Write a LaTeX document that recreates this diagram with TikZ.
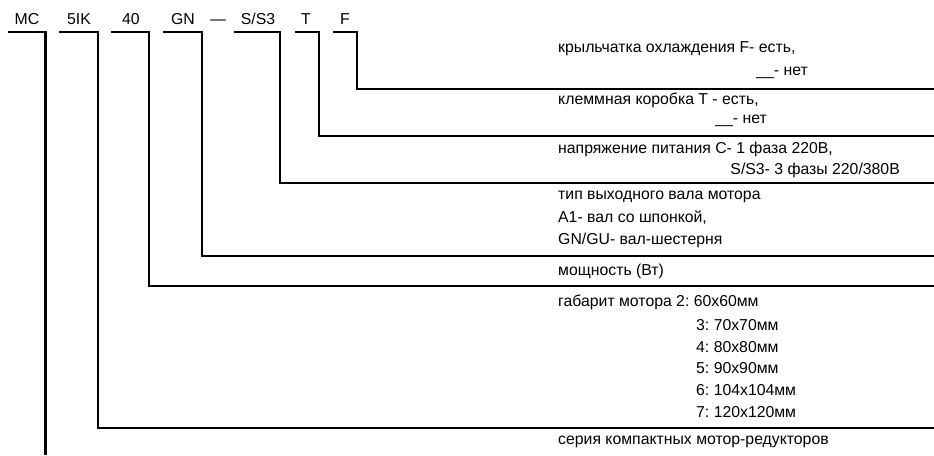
\documentclass[tikz,border=0pt]{standalone}
\usepackage{fontspec}
\setmainfont{Liberation Sans}
\frenchspacing
\begin{document}
\begin{tikzpicture}[x=1pt,y=-1pt,
  lbl/.style={inner sep=0pt,anchor=base,font=\fontsize{15.8}{18}\selectfont},
  txt/.style={inner sep=0pt,anchor=west,font=\fontsize{15.8}{18}\selectfont},
  txr/.style={inner sep=0pt,anchor=east,font=\fontsize{15.8}{18}\selectfont},
  brk/.style={line width=2.4pt,line join=miter}]
\useasboundingbox (0,0) rectangle (934,455);
% top code labels
\node[lbl] (mc) at (27,24.5) {MC};
\node[lbl] (ik) at (79,24.5) {5IK};
\node[lbl] (pw) at (131,24.5) {40};
\node[lbl] (gn) at (183,24.5) {GN};
\node[lbl] (dash) at (218,24.5) {—};
\node[lbl] (ss) at (258,24.5) {S/S3};
\node[lbl] (t) at (306,24.5) {T};
\node[lbl] (f) at (345,24.5) {F};
% brackets
\coordinate (mcL) at (8,32); \coordinate (mcC) at (45.5,32); \coordinate (mcE) at (45.5,455);
\coordinate (ikL) at (59,32); \coordinate (ikC) at (98,32); \coordinate (ikD) at (98,428); \coordinate (ikE) at (934,428);
\coordinate (pwL) at (111,32); \coordinate (pwC) at (149,32); \coordinate (pwD) at (149,286); \coordinate (pwE) at (934,286);
\coordinate (gnL) at (163,32); \coordinate (gnC) at (202,32); \coordinate (gnD) at (202,256); \coordinate (gnE) at (934,256);
\coordinate (ssL) at (234,32); \coordinate (ssC) at (280,32); \coordinate (ssD) at (280,183); \coordinate (ssE) at (934,183);
\coordinate (tL) at (295,32); \coordinate (tC) at (319,32); \coordinate (tD) at (319,136); \coordinate (tE) at (934,136);
\coordinate (fL) at (333,32); \coordinate (fC) at (357,32); \coordinate (fD) at (357,89); \coordinate (fE) at (934,89);
\draw[brk] (mcL) -- (mcC) -- (mcE);
\draw[brk] (ikL) -- (ikC) -- (ikD) -- (ikE);
\draw[brk] (pwL) -- (pwC) -- (pwD) -- (pwE);
\draw[brk] (gnL) -- (gnC) -- (gnD) -- (gnE);
\draw[brk] (ssL) -- (ssC) -- (ssD) -- (ssE);
\draw[brk] (tL) -- (tC) -- (tD) -- (tE);
\draw[brk] (fL) -- (fC) -- (fD) -- (fE);
% descriptions
\node[txt] (f1) at (558,49) {крыльчатка охлаждения F- есть,};
\node[txr] (f2) at (808,73) {\_\_- нет};
\node[txt] (t1) at (558,100) {клеммная коробка T - есть,};
\node[txr] (t2) at (767,121) {\_\_- нет};
\node[txt] (s1) at (558,149) {напряжение питания С- 1 фаза 220В,};
\node[txr] (s2) at (900,170) {S/S3- 3 фазы 220/380В};
\node[txt] (g1) at (558,197) {тип выходного вала мотора};
\node[txt] (g2) at (558,218) {А1- вал со шпонкой,};
\node[txt] (g3) at (558,240) {GN/GU- вал-шестерня};
\node[txt] (p1) at (558,271) {мощность (Вт)};
\node[txt] (k1) at (558,302) {габарит мотора 2: 60x60мм};
\node[txt] (k2) at (696,325) {3: 70x70мм};
\node[txt] (k3) at (696,347) {4: 80x80мм};
\node[txt] (k4) at (696,368) {5: 90x90мм};
\node[txt] (k5) at (696,390) {6: 104x104мм};
\node[txt] (k6) at (696,412) {7: 120x120мм};
\node[txt] (m1) at (558,442) {серия компактных мотор-редукторов};
\end{tikzpicture}
\end{document}
